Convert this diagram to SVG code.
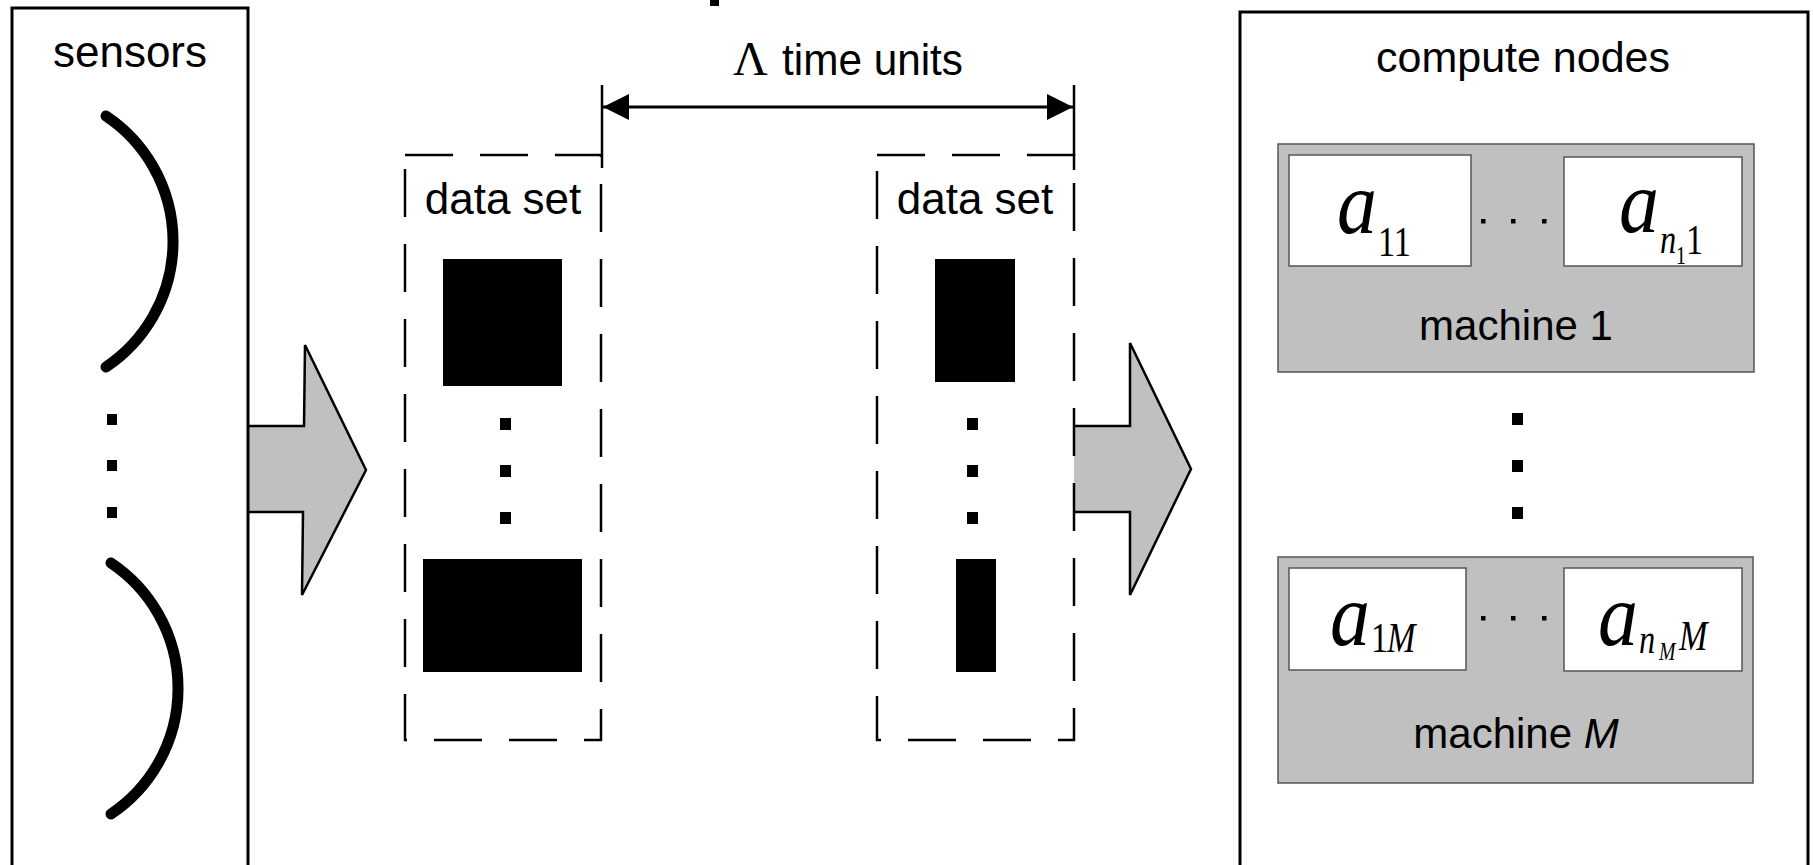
<svg xmlns="http://www.w3.org/2000/svg" width="1813" height="865" viewBox="0 0 1813 865">
<style>
.sans{font-family:"Liberation Sans",Arial,sans-serif;fill:#000}
.mi{font-family:"Liberation Serif","Times New Roman",serif;font-style:italic;fill:#000}
.mr{font-family:"Liberation Serif","Times New Roman",serif;fill:#000}
.box{fill:#fff;stroke:#000;stroke-width:3}
.dash{fill:none;stroke:#000;stroke-width:2.5;stroke-dasharray:48 27}
.machine{fill:#c0c0c0;stroke:#555;stroke-width:1.5}
.proc{fill:#fff;stroke:#555;stroke-width:1.5}
.blk{fill:#000}
.bigarrow{fill:#c0c0c0;stroke:#000;stroke-width:2.5;stroke-linejoin:miter}
.arc{fill:none;stroke:#000;stroke-width:11;stroke-linecap:round}
</style>
<defs>
<marker id="ah" viewBox="0 0 26 26" refX="26" refY="13" markerWidth="26" markerHeight="26" markerUnits="userSpaceOnUse" orient="auto-start-reverse">
<path d="M0,0 L26,13 L0,26 z" fill="#000"/>
</marker>
</defs>
<rect x="710" y="0" width="9" height="6" fill="#000"/>
<g id="connectors">
<path class="bigarrow" d="M248,426 L304,426 L305,345 L366,470 L302,595 L303,512 L248,512"/>
<path class="bigarrow" d="M1074,426 L1130,426 L1130,343 L1191,469 L1130,595 L1130,512 L1074,512"/>
<line x1="602" y1="85" x2="602" y2="168" stroke="#000" stroke-width="2.5"/>
<line x1="1074" y1="85" x2="1074" y2="170" stroke="#000" stroke-width="2.5"/>
<line x1="603" y1="107" x2="1073" y2="107" stroke="#000" stroke-width="3" marker-start="url(#ah)" marker-end="url(#ah)"/>
<text class="mr" x="733" y="75" font-size="48">Λ</text>
<text class="sans" x="782" y="75" font-size="44" textLength="181" lengthAdjust="spacingAndGlyphs">time units</text>
</g>
<g id="sensors">
<rect class="box" x="12" y="8" width="236" height="900"/>
<text class="sans" x="130" y="67" font-size="44" text-anchor="middle">sensors</text>
<path class="arc" d="M106,116 A151,151 0 0 1 106,367"/>
<path class="arc" d="M111,563 A151,151 0 0 1 111,814"/>
<rect class="blk" x="107" y="414" width="10" height="11"/>
<rect class="blk" x="107" y="460" width="10" height="11"/>
<rect class="blk" x="107" y="507" width="10" height="11"/>
</g>
<g id="dataset1">
<rect class="dash" x="405" y="155" width="196" height="585"/>
<text class="sans" x="503" y="214" font-size="44" text-anchor="middle">data set</text>
<rect class="blk" x="443" y="259" width="119" height="127"/>
<rect class="blk" x="500" y="418" width="11" height="12"/>
<rect class="blk" x="500" y="465" width="11" height="12"/>
<rect class="blk" x="500" y="512" width="11" height="12"/>
<rect class="blk" x="423" y="559" width="159" height="113"/>
</g>
<g id="dataset2">
<rect class="dash" x="877" y="155" width="197" height="585"/>
<text class="sans" x="975" y="214" font-size="44" text-anchor="middle">data set</text>
<rect class="blk" x="935" y="259" width="80" height="123"/>
<rect class="blk" x="967" y="418" width="11" height="12"/>
<rect class="blk" x="967" y="465" width="11" height="12"/>
<rect class="blk" x="967" y="512" width="11" height="12"/>
<rect class="blk" x="956" y="559" width="40" height="113"/>
</g>
<g id="compute">
<rect class="box" x="1240" y="12" width="568" height="900"/>
<text class="sans" x="1523" y="72" font-size="43" text-anchor="middle">compute nodes</text>
<rect class="blk" x="1512" y="413" width="11" height="12"/>
<rect class="blk" x="1512" y="460" width="11" height="12"/>
<rect class="blk" x="1512" y="507" width="11" height="12"/>
</g>
<g id="machine1">
<rect class="machine" x="1278" y="144" width="476" height="228"/>
<rect class="proc" x="1289" y="155" width="182" height="111"/>
<rect class="proc" x="1564" y="157" width="178" height="109"/>
<rect class="blk" x="1481" y="219" width="4.5" height="4.5"/>
<rect class="blk" x="1511" y="219" width="4.5" height="4.5"/>
<rect class="blk" x="1542" y="219" width="4.5" height="4.5"/>
<text class="mi" font-size="80" transform="translate(1337,233) scale(1,1.12)">a</text>
<text class="mr" font-size="38" transform="translate(1378,256) scale(0.9,1.1)">11</text>
<text class="mi" font-size="80" transform="translate(1619,232) scale(1,1.12)">a</text>
<text class="mi" font-size="36" transform="translate(1660,253) scale(0.9,1.1)">n</text>
<text class="mr" font-size="22" transform="translate(1676,264) scale(0.9,1.1)">1</text>
<text class="mr" font-size="38" transform="translate(1686,254) scale(0.9,1.1)">1</text>
<text class="sans" x="1516" y="340" font-size="42" text-anchor="middle">machine 1</text>
</g>
<g id="machineM">
<rect class="machine" x="1278" y="557" width="475" height="226"/>
<rect class="proc" x="1289" y="568" width="177" height="102"/>
<rect class="proc" x="1564" y="568" width="178" height="103"/>
<rect class="blk" x="1481" y="616" width="4.5" height="4.5"/>
<rect class="blk" x="1511" y="616" width="4.5" height="4.5"/>
<rect class="blk" x="1542" y="616" width="4.5" height="4.5"/>
<text class="mi" font-size="80" transform="translate(1330,645) scale(1,1.12)">a</text>
<text class="mr" font-size="38" transform="translate(1371,652) scale(0.9,1.1)">1</text>
<text class="mi" font-size="38" transform="translate(1387,652) scale(0.9,1.1)">M</text>
<text class="mi" font-size="80" transform="translate(1598,645) scale(1,1.12)">a</text>
<text class="mi" font-size="36" transform="translate(1639,653) scale(0.9,1.1)">n</text>
<text class="mi" font-size="22" transform="translate(1659,660) scale(0.9,1.1)">M</text>
<text class="mi" font-size="38" transform="translate(1679,650) scale(0.9,1.1)">M</text>
<text class="sans" x="1516" y="748" font-size="42" text-anchor="middle">machine <tspan font-style="italic">M</tspan></text>
</g>
</svg>
